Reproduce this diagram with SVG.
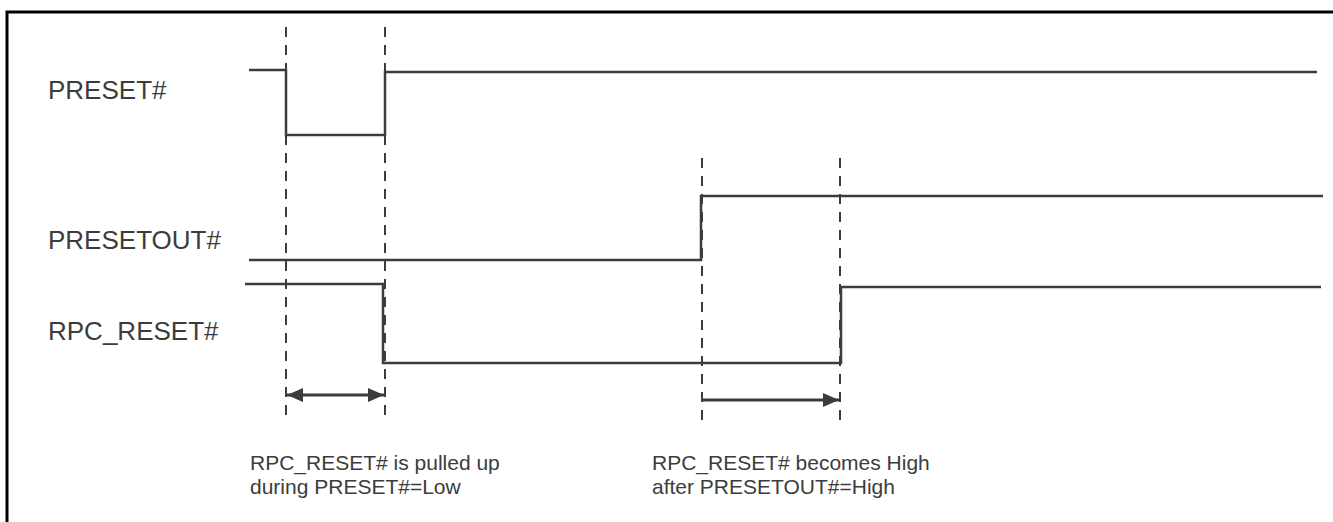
<svg xmlns="http://www.w3.org/2000/svg" width="1333" height="522" viewBox="0 0 1333 522">
<style>
.sig{fill:none;stroke:#3c3c3c;stroke-width:2.5;stroke-linejoin:miter}
.dash{fill:none;stroke:#3c3c3c;stroke-width:2;stroke-dasharray:10 8}
.arr{fill:none;stroke:#3c3c3c;stroke-width:3}
.lbl{font-family:"Liberation Sans",Arial,sans-serif;font-size:26px;fill:#3c3c3c}
.note{font-family:"Liberation Sans",Arial,sans-serif;font-size:21px;fill:#3c3c3c}
</style>
<defs>
<marker id="ah" viewBox="0 0 16 14" refX="16" refY="7" markerWidth="16" markerHeight="14" markerUnits="userSpaceOnUse" orient="auto-start-reverse">
<path d="M0,0 L16,7 L0,14 Z" fill="#3c3c3c"/>
</marker>
</defs>
<rect width="1333" height="522" fill="#ffffff"/>
<path d="M7,522 V12 H1333" fill="none" stroke="#000000" stroke-width="3"/>
<g id="preset">
<text class="lbl" x="48" y="99">PRESET#</text>
<path class="sig" d="M249,70 H286 V135 H385 V72 H1317"/>
</g>
<g id="presetout">
<text class="lbl" x="48" y="249">PRESETOUT#</text>
<path class="sig" d="M249,260 H701 V196 H1323"/>
</g>
<g id="rpc_reset">
<text class="lbl" x="48" y="340">RPC_RESET#</text>
<path class="sig" d="M245,284 H383 V363 H841 V287 H1321"/>
</g>
<g id="connectors">
<line class="dash" x1="286" y1="27" x2="286" y2="420"/>
<line class="dash" x1="385" y1="27" x2="385" y2="420"/>
<line class="dash" x1="702" y1="158" x2="702" y2="420"/>
<line class="dash" x1="840" y1="158" x2="840" y2="420"/>
<line class="arr" x1="287" y1="395" x2="384" y2="395" marker-start="url(#ah)" marker-end="url(#ah)"/>
<line class="arr" x1="702" y1="400" x2="839" y2="400" marker-end="url(#ah)"/>
</g>
<g id="note1">
<text class="note" x="250" y="470">RPC_RESET# is pulled up</text>
<text class="note" x="250" y="494">during PRESET#=Low</text>
</g>
<g id="note2">
<text class="note" x="652" y="470">RPC_RESET# becomes High</text>
<text class="note" x="652" y="494">after PRESETOUT#=High</text>
</g>
</svg>
